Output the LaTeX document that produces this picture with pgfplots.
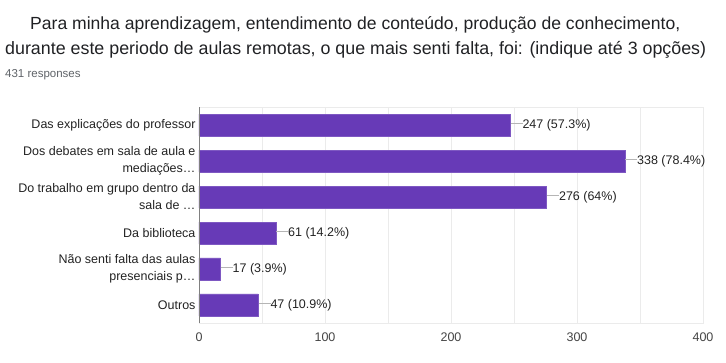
\documentclass[border=0pt]{standalone}
\usepackage{pgfplots}
\pgfplotsset{compat=1.18}
\usepackage{fontspec}
\setmainfont{Liberation Sans}
\definecolor{barc}{HTML}{673AB7}
\definecolor{titlec}{HTML}{202124}
\definecolor{subc}{HTML}{5F6368}
\definecolor{labc}{HTML}{222222}
\definecolor{tickc}{HTML}{444444}
\definecolor{gridc}{HTML}{EBEBEB}
\definecolor{connc}{HTML}{B5B5B5}
\begin{document}
\begin{tikzpicture}
\useasboundingbox (-199pt,-40pt) rectangle (527pt,323pt);
\node[anchor=base west, inner sep=0, text=titlec] at (-169pt,293pt) {\resizebox{650pt}{!}{Para minha aprendizagem, entendimento de conteúdo, produção de conhecimento,}};
\node[anchor=base west, inner sep=0, text=titlec] at (-194pt,268pt) {\resizebox{701pt}{!}{durante este periodo de aulas remotas, o que mais senti falta, foi: (indique até 3 opções)}};
\node[anchor=base west, inner sep=0, text=subc, font=\fontsize{11.5}{13}\selectfont] at (-194pt,245pt) {431 responses};
\begin{axis}[
  anchor=south west,
  scale only axis, width=504pt, height=216pt,
  xbar, bar width=22pt,
  xmin=0, xmax=400, ymin=-0.5, ymax=5.5, y dir=reverse,
  xtick={0,100,200,300,400}, minor xtick={50,150,250,350},
  xmajorgrids, xminorgrids,
  major grid style={draw=gridc, line width=0.8pt},
  minor grid style={draw=gridc, line width=0.8pt},
  axis line style={draw=gridc, line width=0.8pt},
  major tick length=0pt, minor tick length=0pt,
  ytick={0,1,2,3,4,5},
  yticklabels={Das explicações do professor, {Dos debates em sala de aula e\\mediações…}, {Do trabalho em grupo dentro da\\sala de …}, Da biblioteca, {Não senti falta das aulas\\presenciais p…}, Outros},
  yticklabel style={align=right, text=labc, font=\fontsize{12.5}{17}\selectfont},
  xticklabel style={text=tickc, font=\fontsize{12.5}{14}\selectfont, yshift=-6pt},
  /pgf/number format/assume math mode=true,
  point meta=explicit symbolic,
  nodes near coords={\textcolor{connc}{\rule[0.33em]{12pt}{0.8pt}}\pgfplotspointmeta},
  every node near coord/.append style={anchor=west, inner sep=0pt, xshift=0pt, text=labc, font=\fontsize{12.5}{14}\selectfont},
]
\addplot[fill=barc, draw=barc!85!white, line width=0.6pt] coordinates {
  (247,0) [247 (57.3\%)]
  (338,1) [338 (78.4\%)]
  (276,2) [276 (64\%)]
  (61,3) [61 (14.2\%)]
  (17,4) [17 (3.9\%)]
  (47,5) [47 (10.9\%)]
};
\draw[draw=gray, line width=0.9pt] (axis cs:0,-0.5) -- (axis cs:0,5.6);
\end{axis}
\end{tikzpicture}
\end{document}
